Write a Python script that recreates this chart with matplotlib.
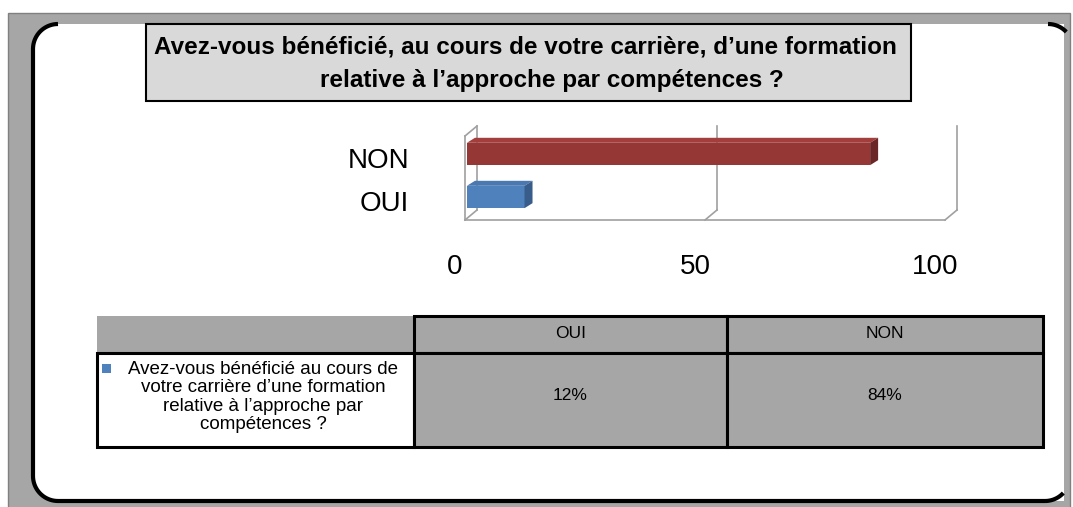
import numpy as np
import matplotlib
matplotlib.use("Agg")
import matplotlib.pyplot as plt
from matplotlib.patches import Rectangle, Polygon

# data
categories = ["OUI", "NON"]
values = [12, 84]
bar_colors = ["#4f81bd", "#953735"]
top_colors = ["#4a78b0", "#a23e3c"]
side_colors = ["#385d8a", "#6b2726"]
xticks = [0, 50, 100]
title_l1 = "Avez-vous bénéficié, au cours de votre carrière, d’une formation"
title_l2 = "relative à l’approche par compétences ?"
row_label = ("Avez-vous bénéficié au cours de\nvotre carrière d’une formation\n"
             "relative à l’approche par\ncompétences ?")

W, H = 1073, 507
fig = plt.figure(figsize=(W / 100, H / 100), dpi=100)
fig.patch.set_facecolor("white")

# background axes in pixel coords
ax0 = fig.add_axes([0, 0, 1, 1])
ax0.set_xlim(0, W)
ax0.set_ylim(H, 0)
ax0.axis("off")

gray = "#a6a6a6"
ax0.add_patch(Rectangle((8, 13), 1062, 500, facecolor=gray, edgecolor="#808080", lw=1))

# white panel: rounded on the left, square on the right
r = 25
left, top, right, bot = 33, 24, 1064, 501
t = np.linspace(np.pi, 1.5 * np.pi, 20)
tl = np.c_[left + r + r * np.cos(t), top + r + r * np.sin(t)]
t = np.linspace(0.5 * np.pi, np.pi, 20)[::-1]
bl = np.c_[left + r + r * np.cos(t), bot - r + r * np.sin(t)]
panel = np.vstack([tl[::-1], bl, [[right, bot], [right, top]]])
ax0.add_patch(Polygon(panel, closed=True, facecolor="white", edgecolor="none"))

# black border: left + bottom, small hooks on the right corners
pts = np.vstack([tl[::-1], bl, [[1045, bot]]])
ax0.plot(pts[:, 0], pts[:, 1], color="black", lw=3, solid_capstyle="butt")
t = np.linspace(0.75, 0.5 * np.pi, 15)
br = np.c_[1045 + r * np.cos(t), bot - r + r * np.sin(t)]
ax0.plot(br[:, 0], br[:, 1], color="black", lw=3, solid_capstyle="butt")
t = np.linspace(1.5 * np.pi, 2 * np.pi - 0.75, 15)
tr = np.c_[1048 + r * np.cos(t), top + r + r * np.sin(t)]
ax0.plot(tr[:, 0], tr[:, 1], color="black", lw=3, solid_capstyle="butt")

# title box
ax0.add_patch(Rectangle((146, 24), 765, 77, facecolor="#d9d9d9", edgecolor="black", lw=1.5))
ax0.text(525, 47, title_l1, ha="center", va="center", fontsize=17.5,
         fontweight="bold", family="Liberation Sans")
ax0.text(552, 81, title_l2, ha="center", va="center", fontsize=17.5,
         fontweight="bold", family="Liberation Sans")

# table
tx = [97, 414, 727, 1043]
ty = [316, 353, 447]
ax0.add_patch(Rectangle((tx[0], ty[0]), tx[1] - tx[0], ty[1] - ty[0], facecolor=gray, edgecolor="none"))
ax0.add_patch(Rectangle((tx[0], ty[1]), tx[1] - tx[0], ty[2] - ty[1], facecolor="white",
                        edgecolor="black", lw=2.2))
for i, (cat, v) in enumerate(zip(categories, values)):
    ax0.add_patch(Rectangle((tx[i + 1], ty[0]), tx[i + 2] - tx[i + 1], ty[1] - ty[0],
                            facecolor=gray, edgecolor="black", lw=2.2))
    ax0.add_patch(Rectangle((tx[i + 1], ty[1]), tx[i + 2] - tx[i + 1], ty[2] - ty[1],
                            facecolor=gray, edgecolor="black", lw=2.2))
    cx = (tx[i + 1] + tx[i + 2]) / 2
    ax0.text(cx, 334, cat, ha="center", va="center", fontsize=12.5,
             family="Liberation Sans")
    ax0.text(cx, 395, f"{v}%", ha="center", va="center", fontsize=12.5,
             family="Liberation Sans")
ax0.add_patch(Rectangle((102, 364), 9, 9, facecolor=bar_colors[0], edgecolor="none"))
ax0.text(263, 397, row_label, ha="center", va="center", fontsize=13.5,
         family="Liberation Sans", linespacing=1.1)

# 3D-ish bar chart
L, R, T, B = 465, 945, 136, 220
ax = fig.add_axes([L / W, 1 - B / H, (R - L) / W, (B - T) / H])
ax.axis("off")
ylo, yhi = -0.535, 1.418
ax.set_xlim(0, 100)
ax.set_ylim(ylo, yhi)
sx = 100 / (R - L)
sy = (yhi - ylo) / (B - T)
dxw, dyw = 12 * sx, 10 * sy
dxb, dyb = 8 * sx, 5 * sy
wall = "#a0a0a0"

for xv in xticks:
    ax.plot([xv + dxw, xv + dxw], [ylo + dyw, yhi + dyw], color=wall, lw=1.2, clip_on=False, zorder=1)
    ax.plot([xv, xv + dxw], [ylo, ylo + dyw], color=wall, lw=1.2, clip_on=False, zorder=1)
ax.plot([0, 0], [ylo, yhi], color=wall, lw=1.2, clip_on=False, zorder=1)
ax.plot([0, dxw], [yhi, yhi + dyw], color=wall, lw=1.2, clip_on=False, zorder=1)
ax.plot([0, 100], [ylo, ylo], color=wall, lw=1.2, clip_on=False, zorder=1)

ypos = np.arange(len(categories))
h = 0.52
ax.barh(ypos, values, height=h, left=0.4, color=bar_colors, zorder=3, clip_on=False)
for y, v, tc, sc in zip(ypos, values, top_colors, side_colors):
    x1 = 0.4 + v
    ax.add_patch(Polygon([(0.4, y + h / 2), (x1, y + h / 2), (x1 + dxb, y + h / 2 + dyb),
                          (0.4 + dxb, y + h / 2 + dyb)], closed=True, facecolor=tc,
                         edgecolor="none", zorder=3, clip_on=False))
    ax.add_patch(Polygon([(x1, y - h / 2), (x1 + dxb, y - h / 2 + dyb), (x1 + dxb, y + h / 2 + dyb),
                          (x1, y + h / 2)], closed=True, facecolor=sc, edgecolor="none",
                         zorder=3, clip_on=False))

for y, c in zip(ypos, categories):
    ax.text(-56 * sx, y - 7 * sy, c, ha="right", va="center", fontsize=20, family="Liberation Sans")
for xv in xticks:
    ax.text(xv - 10 * sx, ylo - 47 * sy, str(xv), ha="center", va="center", fontsize=20,
            family="Liberation Sans")

fig.savefig("out.png", dpi=100)
